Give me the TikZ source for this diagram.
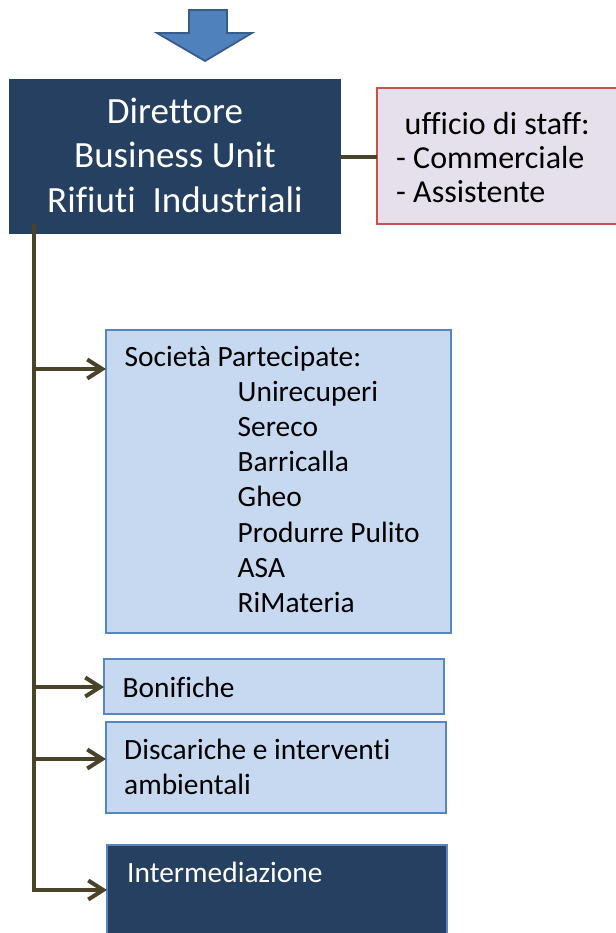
\documentclass[tikz,border=0pt]{standalone}
\usepackage{fontspec}
\setmainfont{Carlito}[Ligatures=NoCommon]
\usetikzlibrary{arrows.meta}
\definecolor{navy}{RGB}{37,64,97}
\definecolor{lightfill}{RGB}{198,217,241}
\definecolor{lightborder}{RGB}{86,134,196}
\definecolor{stafffill}{RGB}{230,224,236}
\definecolor{staffborder}{RGB}{200,80,77}
\definecolor{conn}{RGB}{73,68,41}
\definecolor{arrowfill}{RGB}{79,129,189}
\definecolor{arrowborder}{RGB}{56,93,138}
\tikzset{
  boxbase/.style={rectangle, anchor=north west, inner sep=0pt, outer sep=0pt},
  darkbox/.style={boxbase, fill=navy},
  darkboxb/.style={boxbase, fill=navy, draw=lightborder, line width=1.6pt},
  lightbox/.style={boxbase, fill=lightfill, draw=lightborder, line width=1.6pt},
  staffbox/.style={boxbase, fill=stafffill, draw=staffborder, line width=1.6pt},
  hdrtxt/.style={anchor=base, inner sep=0pt, text=white, font=\fontsize{37}{44.5}\selectfont},
  stafftxt/.style={anchor=base west, inner sep=0pt, font=\fontsize{32}{34}\selectfont},
  bodytxt/.style={anchor=base west, inner sep=0pt, font=\fontsize{29.4}{35.2}\selectfont},
  wbodytxt/.style={bodytxt, text=white},
  connline/.style={draw=conn, line width=4pt},
  branch/.style={connline, -{Straight Barb[length=15pt,width=19pt]}},
  blockarrow/.style={fill=arrowfill, draw=arrowborder, line width=1.8pt, line join=miter}
}
\begin{document}
\begin{tikzpicture}[x=1pt,y=-1pt]
\useasboundingbox (0,0) rectangle (615,933);
% block arrow
\draw[blockarrow] (189,10) -- (227,10) -- (227,33) -- (252,33) -- (205,61) -- (157,33) -- (189,33) -- cycle;
% header
\node[darkbox, minimum width=332pt, minimum height=155pt] (hdr) at (9,79) {};
\node[hdrtxt] (h1) at (175,124) {Direttore};
\node[hdrtxt] (h2) at (175,168) {Business Unit};
\node[hdrtxt] (h3) at (175,213) {Rifiuti\ \ Industriali};
% staff
\node[staffbox, minimum width=245pt, minimum height=136pt] (staff) at (377,88) {};
\node[stafftxt] (s1) at (404.5,135) {ufficio di staff:};
\node[stafftxt] (s2) at (396,169) {- Commerciale};
\node[stafftxt] (s3) at (396,203) {- Assistente};
\draw[connline] (hdr.east |- 0,157) -- (staff.west |- 0,157);
% boxes
\node[lightbox, minimum width=345pt, minimum height=303pt] (soc) at (106,330) {};
\node[bodytxt] (soct) at (124.5,366) {Società Partecipate:};
\foreach \name [count=\i] in {Unirecuperi,Sereco,Barricalla,Gheo,Produrre Pulito,ASA,RiMateria}{
  \node[bodytxt] (li\i) at (237.5,{366+35.2*\i}) {\name};
}
\node[lightbox, minimum width=340pt, minimum height=55pt] (bon) at (104,659) {};
\node[bodytxt] (bont) at (122.5,697) {Bonifiche};
\node[lightbox, minimum width=340pt, minimum height=91pt] (dis) at (106,722) {};
\node[bodytxt] (dist1) at (124,759) {Discariche e interventi};
\node[bodytxt] (dist2) at (124,794) {ambientali};
\node[darkboxb, minimum width=340pt, minimum height=110pt] (int) at (107,845) {};
\node[wbodytxt] (intt) at (127,882) {Intermediazione};
% trunk and branches
\coordinate (ttop) at (34,224);
\coordinate (tbot) at (34,890);
\coordinate (b1) at (32,369);
\coordinate (b2) at (32,687);
\coordinate (b3) at (32,759);
\coordinate (b4) at (32,890);
\draw[connline] (ttop) -- (tbot);
\draw[branch] (b1) -- (b1 -| soc.west);
\draw[branch] (b2) -- (b2 -| bon.west);
\draw[branch] (b3) -- (b3 -| dis.west);
\draw[branch] (b4) -- (b4 -| int.west);
\end{tikzpicture}
\end{document}
